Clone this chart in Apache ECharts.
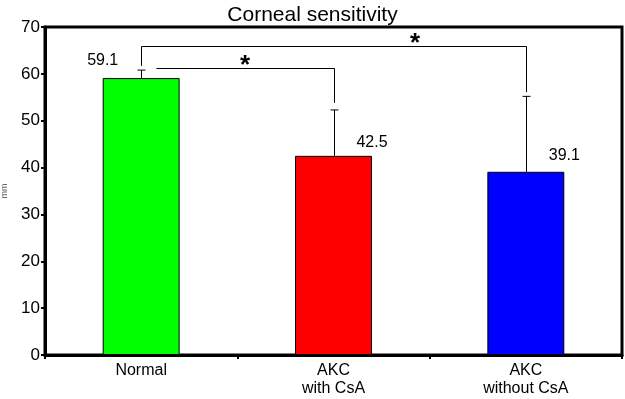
<!DOCTYPE html>
<html>
<head>
<meta charset="utf-8">
<script src="https://cdn.jsdelivr.net/npm/echarts@6/dist/echarts.min.js"></script>
<style>
  html, body { margin: 0; padding: 0; background: #fff; }
  #chart { width: 625px; height: 399px; }
</style>
</head>
<body>
<div id="chart"></div>
<script>
// data
var categories = ['Normal', 'AKC\nwith CsA', 'AKC\nwithout CsA'];
var means = [59.1, 42.5, 39.1];
var errTops = [60.8, 52.3, 55.2];
var barColors = ['#00ff00', '#ff0000', '#0000ff'];
var yTicks = [0, 10, 20, 30, 40, 50, 60, 70];
// brackets: [from, to, height, left leg end, right leg end]
var brackets = [
  [0, 1, 61.2, 61.2, 53.8],
  [0, 2, 65.9, 61.7, 56.1]
];

var chart = echarts.init(document.getElementById('chart'));

// label offsets per bar (Normal sits left, others right)
var labelPos = [[0, -17], ['100%', -13], ['100%', -16]];

chart.setOption({
  animation: false,
  backgroundColor: '#fff',
  textStyle: { fontFamily: 'Liberation Sans, Arial, sans-serif' },
  title: {
    text: 'Corneal sensitivity',
    left: 'center',
    top: 0,
    textStyle: { fontSize: 21, fontWeight: 'normal', color: '#000' }
  },
  grid: {
    left: 45, right: 3, top: 27, bottom: 44,
    outerBoundsMode: 'none',
    containLabel: false,
    show: true, borderColor: '#000', borderWidth: 3
  },
  xAxis: {
    type: 'category',
    data: categories,
    axisLine: { lineStyle: { color: '#000', width: 3 } },
    axisTick: { show: true, length: 4, lineStyle: { color: '#000', width: 2 } },
    axisLabel: { color: '#000', fontSize: 16, lineHeight: 18, margin: 7 }
  },
  yAxis: {
    type: 'value',
    min: 0, max: 70, interval: 10,
    name: 'mm',
    nameLocation: 'middle',
    nameGap: 36,
    nameTextStyle: { color: '#666', fontSize: 9 },
    splitLine: { show: false },
    axisLine: { show: true, lineStyle: { color: '#000', width: 3 } },
    axisTick: { show: true, length: 4, lineStyle: { color: '#000', width: 2 } },
    axisLabel: {
      color: '#000', fontSize: 17, margin: 5,
      formatter: function (v) { return yTicks.indexOf(v) >= 0 ? String(v) : ''; }
    }
  },
  series: [
    {
      type: 'bar',
      barWidth: '40%',
      data: means.map(function (v, i) {
        return {
          value: v,
          itemStyle: { color: barColors[i], borderColor: '#000', borderWidth: 1 },
          label: {
            show: true, position: labelPos[i], align: 'center',
            verticalAlign: 'middle', color: '#000', fontSize: 16,
            formatter: function (p) { return p.value.toFixed(1); }
          }
        };
      }),
      z: 2
    },
    {
      // error bars, upper half only
      type: 'custom',
      data: means.map(function (v, i) { return [i, v, errTops[i]]; }),
      renderItem: function (params, api) {
        var base = api.coord([api.value(0), api.value(1)]);
        var top = api.coord([api.value(0), api.value(2)]);
        var x = Math.round(base[0]) + 0.5;
        return {
          type: 'group',
          children: [
            { type: 'line', shape: { x1: x, y1: base[1], x2: x, y2: top[1] }, style: { stroke: '#000', lineWidth: 1 } },
            { type: 'line', shape: { x1: x - 4, y1: top[1], x2: x + 4, y2: top[1] }, style: { stroke: '#000', lineWidth: 1 } }
          ]
        };
      },
      z: 3
    },
    {
      // significance brackets with stars
      type: 'custom',
      data: brackets,
      renderItem: function (params, api) {
        var a = api.coord([api.value(0), api.value(2)]);
        var b = api.coord([api.value(1), api.value(2)]);
        var aEnd = api.coord([api.value(0), api.value(3)]);
        var bEnd = api.coord([api.value(1), api.value(4)]);
        var xa = Math.round(a[0]) + 0.5, xb = Math.round(b[0]) + 0.5, y = Math.round(a[1]) + 0.5;
        var children = [];
        if (params.dataIndex === 0) {
          // short bracket starts to the right of the Normal error bar
          children.push({ type: 'line', shape: { x1: xa + 15, y1: y, x2: xb, y2: y }, style: { stroke: '#000', lineWidth: 1 } });
        } else {
          children.push({ type: 'line', shape: { x1: xa, y1: y, x2: xb, y2: y }, style: { stroke: '#000', lineWidth: 1 } });
          children.push({ type: 'line', shape: { x1: xa, y1: y, x2: xa, y2: aEnd[1] }, style: { stroke: '#000', lineWidth: 1 } });
        }
        children.push({ type: 'line', shape: { x1: xb, y1: y, x2: xb, y2: bEnd[1] }, style: { stroke: '#000', lineWidth: 1 } });
        var sx = params.dataIndex === 0 ? 245 : 415;
        children.push({
          type: 'text',
          style: {
            text: '*', x: sx, y: y - 3, align: 'center', verticalAlign: 'middle',
            fontSize: 26, fontWeight: 'bold', fill: '#000',
            fontFamily: 'Liberation Sans, Arial, sans-serif'
          }
        });
        return { type: 'group', children: children };
      },
      z: 3
    }
  ]
});
</script>
</body>
</html>
